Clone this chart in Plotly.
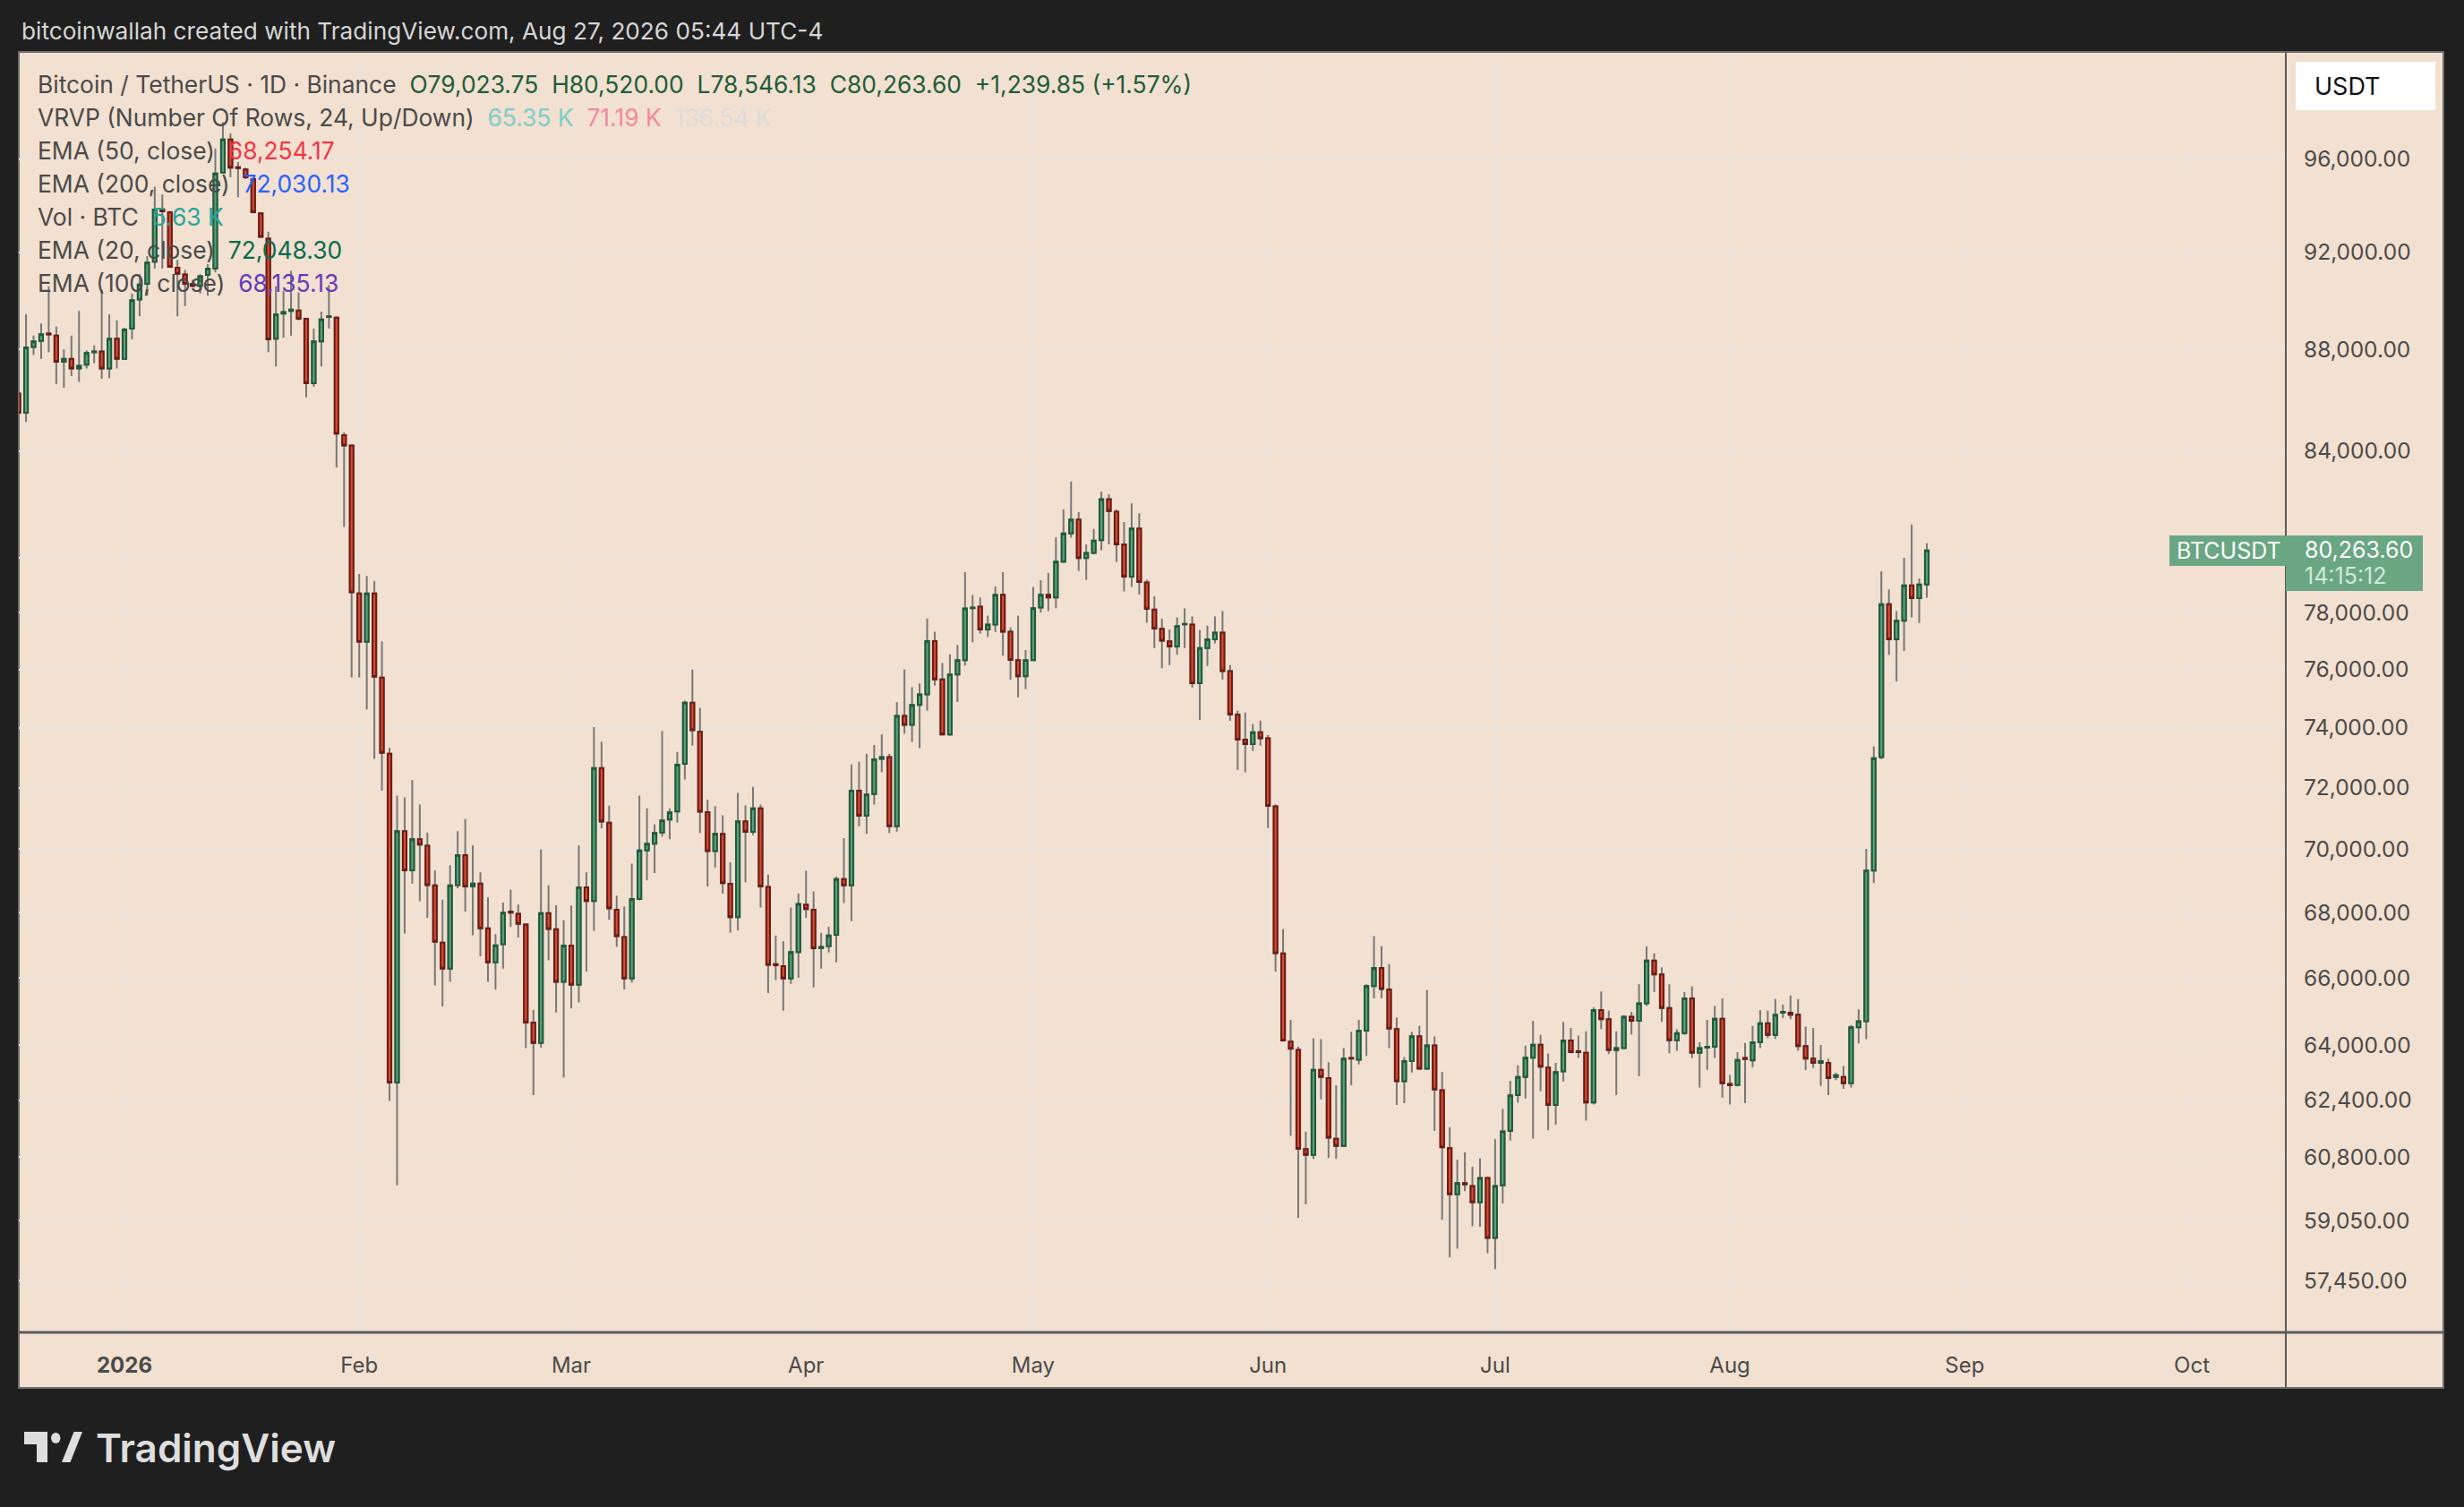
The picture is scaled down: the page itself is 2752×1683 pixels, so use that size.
import math
import pandas as pd
import plotly.graph_objects as go

# daily candles, BTC/USDT (Binance), 18 Dec 2025 .. 27 Aug 2026
dates = pd.date_range("2025-12-18", "2026-08-27", freq="D")

opens = [
    # Dec
    86240, 85480, 88100, 88340, 88640, 88560, 87500, 87620, 87235, 87390, 87880, 87920, 87235, 88430,
    # Jan
    87620, 88840, 90030, 90680, 91600, 93820, 93700, 91350, 91070, 90680, 90600, 91050, 91310, 95420, 96880, 95650,
    95550, 95130, 93650, 92580, 88430, 89450, 89560, 89580, 89240, 86650, 88320, 89310, 89290, 84610, 84210,
    # Feb
    78700, 76970, 78700, 75720, 73130, 62910, 70580, 69330, 70320, 70110, 68850, 67070, 66280, 68860,
    69810, 68820, 68910, 67510, 66470, 67020, 68030, 67960, 67630, 64660, 64060, 67980, 67480, 65880,
    # Mar
    66980, 65790, 68790, 68360, 72650, 70860, 68090, 67240, 65980, 68420, 69960, 70180, 70540, 70960, 71220, 72790,
    74860, 73870, 71200, 69940, 70495, 68900, 67860, 70900, 70560, 71320, 68800, 66410, 66350, 65980, 66780,
    # Apr
    68250, 68090, 66900, 66960, 67310, 69050, 68850, 71900, 71080, 71790, 72960, 73020, 70740, 74410, 74100,
    74780, 75140, 77000, 75660, 73780, 75830, 76330, 78170, 78220, 77410, 77580, 78650, 77330, 76330, 75770,
    # May
    76330, 78190, 78650, 78550, 79850, 80890, 81400, 79980, 80170, 80640, 82170, 81700, 80480, 79300, 81070, 79090,
    78120, 77430, 76990, 76810, 77590, 77580, 75530, 76750, 77060, 77300, 75950, 74450, 73600, 73450, 73850,
    # Jun
    73650, 71390, 66740, 64100, 63860, 61020, 60860, 63280, 63040, 61310, 61110, 63620, 63570, 64420, 65750,
    66300, 65650, 64470, 62950, 63530, 64260, 63310, 63990, 62690, 61050, 59770, 60080, 60000, 59550, 60220,
    # Jul
    58590, 60020, 61530, 62550, 63070, 63630, 64010, 63340, 62270, 63230, 64130, 63820, 63770, 62340, 65030, 64760,
    63850, 63910, 64830, 64710, 65230, 66520, 66100, 65090, 64140, 64350, 65380, 63770, 63920, 63950, 64770,
    # Aug
    62870, 62840, 63620, 63550, 64080, 64640, 64300, 64950, 64950, 64890, 63970, 63600, 63480, 63480,
    63070, 63070, 62890, 64520, 64700, 69320, 73020, 78310, 77060, 77720, 78990, 78530, 79023.75,
]

highs = [
    # Dec
    86600, 89420, 88560, 89050, 90580, 88920, 88000, 88560, 89560, 87960, 88160, 90420, 89420, 89180,
    # Jan
    88880, 90270, 91080, 91840, 94800, 94460, 93750, 91680, 91260, 90840, 91080, 91500, 96470, 97640, 97140, 95880,
    95630, 95170, 93700, 92870, 90580, 90390, 91220, 90320, 89290, 88840, 89530, 90630, 89340, 84720, 84250,
    # Feb
    79400, 79330, 79150, 76990, 73330, 71740, 71680, 72250, 71450, 70540, 69330, 68400, 69490, 70580,
    70970, 70130, 69260, 68480, 67330, 68310, 68720, 68250, 67670, 65040, 69990, 68850, 68230, 67760,
    # Mar
    68220, 70120, 69260, 74030, 73530, 71410, 68530, 68190, 69540, 71740, 71320, 70800, 73890, 71320, 73190, 74930,
    76000, 74680, 71610, 71390, 71100, 69580, 71830, 71420, 72030, 71450, 69190, 67290, 67120, 68160, 68590,
    # Apr
    69310, 68660, 67370, 67560, 69130, 70360, 72770, 72860, 73120, 73420, 73780, 73120, 74870, 76000, 75390,
    75520, 77800, 77330, 76230, 76530, 76860, 79470, 78640, 78550, 77900, 78950, 79470, 77480, 77900, 76680,
    # May
    78920, 79170, 79440, 80750, 81790, 82830, 81680, 80480, 81050, 82450, 82350, 81780, 81310, 82010, 81640, 79200,
    78590, 77790, 77410, 77840, 78160, 77870, 77390, 77540, 77870, 78060, 76160, 74580, 74520, 74130, 74250,
    # Jun
    73750, 71450, 67490, 64740, 63950, 61510, 64200, 64170, 63500, 62830, 63910, 64390, 64740, 65800, 67270,
    66970, 66420, 64810, 63650, 64390, 64570, 65630, 64250, 63220, 61630, 60730, 60930, 60530, 60760, 60250,
    # Jul
    61300, 62160, 62960, 63410, 63980, 64710, 64300, 63750, 63480, 64680, 64500, 64280, 64400, 65110, 65590, 65010,
    64400, 64880, 64980, 65800, 66950, 66740, 66320, 65800, 64460, 65570, 65740, 64080, 64740, 65150, 65380,
    # Aug
    63130, 63790, 64060, 64560, 65030, 65010, 65360, 65190, 65470, 65360, 64540, 64500, 64000, 63600,
    63190, 63390, 64590, 65050, 70010, 73380, 79500, 78840, 78060, 79990, 81220, 79240, 80520.00,
]

lows = [
    # Dec
    85300, 85120, 87770, 87620, 87880, 86620, 86470, 86930, 86700, 87235, 87450, 86820, 86850, 87235,
    # Jan
    87570, 88400, 89340, 90190, 91310, 91310, 91350, 89340, 89760, 90520, 90270, 90190, 91150, 95380, 95210, 94350,
    95130, 93650, 92620, 87890, 87310, 88480, 88560, 89180, 86090, 86500, 87310, 88840, 83370, 81130, 75730,
    # Feb
    75730, 74630, 72960, 71900, 62380, 60020, 67350, 68910, 68350, 67840, 65770, 65140, 65880, 68760,
    68030, 67300, 66650, 65880, 65640, 66280, 67550, 67230, 63910, 62550, 63920, 66530, 64960, 63060,
    # Mar
    65080, 65260, 66190, 67430, 70670, 67780, 66940, 65650, 65860, 68380, 69010, 69240, 70410, 70320, 70860, 72270,
    73400, 70520, 68820, 69420, 68590, 67380, 67450, 68950, 70450, 68160, 65540, 65930, 65010, 65820, 66000,
    # Apr
    67830, 65710, 66280, 66770, 66470, 68300, 67730, 70740, 70500, 71450, 72510, 70520, 70570, 73800, 73530,
    73320, 74580, 75440, 73750, 73730, 74880, 76140, 76960, 77270, 77150, 77320, 76490, 75650, 75040, 75330,
    # May
    76300, 78010, 78060, 78170, 79800, 80730, 79510, 79190, 80120, 80260, 80480, 79840, 78770, 78930, 78660, 77650,
    76750, 76050, 76160, 76520, 76750, 75380, 74270, 76130, 76920, 75650, 74240, 72590, 72510, 73230, 73400,
    # Jun
    70680, 66190, 64100, 61390, 59130, 59500, 60750, 62430, 60770, 60750, 61080, 62830, 63430, 63680, 65380,
    65380, 63910, 62270, 62320, 63200, 63280, 63280, 61530, 59080, 58070, 58300, 59860, 58900, 58890, 58180,
    # Jul
    57760, 59520, 61260, 62330, 62450, 61310, 62660, 61550, 61710, 62940, 63760, 63630, 61820, 62280, 64470, 63730,
    62550, 63880, 64310, 63090, 65150, 65570, 64680, 63760, 63830, 64300, 63620, 62770, 63280, 63620, 62480,
    # Aug
    62280, 62800, 62320, 63350, 63910, 64200, 64180, 64790, 64760, 63830, 63270, 63330, 62810, 62550,
    62980, 62730, 62770, 64050, 64170, 68920, 72950, 76510, 75590, 76650, 77840, 77640, 78546.13,
]

closes = [
    # Dec
    85480, 88080, 88320, 88610, 88600, 87500, 87620, 87235, 87340, 87850, 87920, 87235, 88430, 87620,
    # Jan
    88800, 90000, 90650, 91570, 93820, 93740, 91390, 91100, 90680, 90600, 91000, 91310, 95380, 96880, 95630, 95610,
    95210, 93700, 92650, 88400, 89420, 89520, 89620, 89240, 86650, 88320, 89210, 89340, 84670, 84210, 78740,
    # Feb
    76970, 78700, 75750, 73160, 62910, 70580, 69330, 70320, 70150, 68860, 67100, 66280, 68850, 69810,
    68820, 68910, 67510, 66470, 66990, 68000, 68000, 67650, 64660, 64060, 67980, 67490, 65880, 66980,
    # Mar
    65790, 68790, 68360, 72650, 70890, 68130, 67270, 65980, 68420, 69960, 70180, 70520, 70930, 71190, 72760, 74860,
    73920, 71210, 69940, 70500, 68920, 67860, 70900, 70560, 71320, 68820, 66390, 66380, 65980, 66780, 68270,
    # Apr
    68110, 66900, 66940, 67290, 69050, 68850, 71900, 71080, 71780, 72940, 73020, 70740, 74410, 74100, 74780,
    75140, 77000, 75660, 73780, 75830, 76330, 78160, 78190, 77410, 77580, 78650, 77330, 76340, 75770, 76330,
    # May
    78170, 78650, 78550, 79850, 80890, 81400, 79980, 80170, 80620, 82170, 81720, 80480, 79300, 81070, 79110, 78140,
    77440, 77010, 76810, 77530, 77610, 75530, 76750, 77060, 77300, 75950, 74450, 73600, 73450, 73850, 73650,
    # Jun
    71400, 66750, 64130, 63890, 61030, 60860, 63280, 63070, 61340, 61110, 63600, 63600, 64420, 65750, 66300,
    65660, 64480, 62950, 63530, 64260, 63310, 63990, 62710, 61070, 59770, 60080, 60040, 59550, 60220, 58590,
    # Jul
    60000, 61520, 62540, 63070, 63630, 64010, 63370, 62270, 63210, 64130, 63790, 63790, 62340, 65030, 64760, 63850,
    63910, 64830, 64710, 65230, 66520, 66100, 65090, 64140, 64350, 65380, 63770, 63910, 63950, 64770, 62890,
    # Aug
    62830, 63560, 63590, 64080, 64640, 64300, 64890, 64980, 64890, 63970, 63600, 63480, 63530, 63040,
    63120, 62890, 64520, 64700, 69320, 72980, 78310, 77060, 77720, 78990, 78530, 79023.75, 80263.60,
]

assert len(opens) == len(highs) == len(lows) == len(closes) == len(dates), (
    len(opens), len(highs), len(lows), len(closes), len(dates))

last_price = closes[-1]

price_ticks = [96000, 92000, 88000, 84000, 80000, 78000, 76000, 74000, 72000,
               70000, 68000, 66000, 64000, 62400, 60800, 59050, 57450]
# 80,000 label is covered by the last-price tag in the original
price_labels = ["" if v == 80000 else f"{v:,.2f}" for v in price_ticks]

month_ticks = pd.date_range("2026-01-01", "2026-10-01", freq="MS")
month_labels = ["<b>2026</b>", "Feb", "Mar", "Apr", "May", "Jun", "Jul", "Aug", "Sep", "Oct"]

# colours
DARK = "#1f1f1f"
PANEL = "#f2e0d0"
GRID = "#e9e3dc"
WICK = "#787878"
UP_FILL, UP_LINE = "#5e9f7b", "#1d5b3b"
DN_FILL, DN_LINE = "#d94a32", "#6b1c15"
TAG = "#6aa683"
TXT = "#4a4a4a"
FONT = "Inter"

# pixel frame of the plot area
W, H = 2752, 1683
L, R, T, B = 21, 2553, 59, 1488


def px(x):
    return (x - L) / (R - L)


def py(y):
    return (B - y) / (B - T)


fig = go.Figure()

# wicks (grey), bodies drawn on top
fig.add_trace(go.Candlestick(
    x=dates, open=opens, high=highs, low=lows, close=closes,
    increasing=dict(line=dict(color=WICK, width=2), fillcolor=WICK),
    decreasing=dict(line=dict(color=WICK, width=2), fillcolor=WICK),
    whiskerwidth=0, hoverinfo="skip", showlegend=False,
))
body_hi = [max(o, c) for o, c in zip(opens, closes)]
body_lo = [min(o, c) for o, c in zip(opens, closes)]
fig.add_trace(go.Candlestick(
    x=dates, open=opens, high=body_hi, low=body_lo, close=closes,
    increasing=dict(line=dict(color=UP_LINE, width=2), fillcolor=UP_FILL),
    decreasing=dict(line=dict(color=DN_LINE, width=2), fillcolor=DN_FILL),
    whiskerwidth=0, showlegend=False,
))

shapes = [
    # chart panel
    dict(type="rect", xref="paper", yref="paper", x0=px(21), x1=px(2729), y0=py(1550), y1=py(58),
         fillcolor=PANEL, line=dict(color="#6e6e6e", width=2), layer="below"),
    # price scale / time scale separators
    dict(type="line", xref="paper", yref="paper", x0=1, x1=1, y0=py(1550), y1=py(58),
         line=dict(color="#5a5a5a", width=2)),
    dict(type="line", xref="paper", yref="paper", x0=px(21), x1=px(2729), y0=0, y1=0,
         line=dict(color="#5a5a5a", width=3)),
    # last price line
    dict(type="line", xref="paper", yref="y", x0=0, x1=1,
         y0=math.log10(last_price), y1=math.log10(last_price),
         line=dict(color=TAG, width=2, dash="dot")),
    # last price tags
    dict(type="rect", xref="paper", yref="paper", x0=px(2423), x1=1, y0=py(632), y1=py(598),
         fillcolor=TAG, line=dict(width=0)),
    dict(type="rect", xref="paper", yref="paper", x0=1, x1=px(2706), y0=py(660), y1=py(598),
         fillcolor=TAG, line=dict(width=0)),
    # currency box
    dict(type="rect", xref="paper", yref="paper", x0=px(2564), x1=px(2720), y0=py(123), y1=py(69),
         fillcolor="#ffffff", line=dict(width=0)),
    # TradingView mark
    dict(type="rect", xref="paper", yref="paper", x0=px(27), x1=px(53), y0=py(1613), y1=py(1599),
         fillcolor="#dedede", line=dict(width=0)),
    dict(type="rect", xref="paper", yref="paper", x0=px(41), x1=px(53), y0=py(1633), y1=py(1599),
         fillcolor="#dedede", line=dict(width=0)),
    dict(type="circle", xref="paper", yref="paper", x0=px(57), x1=px(67.5), y0=py(1612), y1=py(1600),
         fillcolor="#dedede", line=dict(width=0)),
    dict(type="path", xref="paper", yref="paper",
         path=f"M {px(69)} {py(1633)} L {px(82.5)} {py(1599)} L {px(92)} {py(1599)} "
              f"L {px(78.5)} {py(1633)} Z",
         fillcolor="#dedede", line=dict(width=0)),
]


def note(x, y, text, size=26.4, color=TXT, anchor="left", weight=None):
    font = dict(family=FONT, size=size, color=color)
    if weight:
        font["weight"] = weight
    return dict(xref="paper", yref="paper", x=px(x), y=py(y), text=text, showarrow=False,
                xanchor=anchor, yanchor="middle", font=font)


def span(text, color):
    return f"<span style='color:{color}'>{text}</span>"


GREEN_TXT = "#1f5c3a"
sp = "&nbsp;&nbsp;"
legend_lines = [
    "Bitcoin / TetherUS · 1D · Binance" + sp + span(
        "O79,023.75" + sp + "H80,520.00" + sp + "L78,546.13" + sp + "C80,263.60" + sp
        + "+1,239.85 (+1.57%)", GREEN_TXT),
    "VRVP (Number Of Rows, 24, Up/Down)" + sp + span("65.35 K", "#7fcdc8") + sp
    + span("71.19 K", "#f08ba0") + sp + span("136.54 K", "#dcdcdc"),
    "EMA (50, close)" + sp + span("68,254.17", "#f23645"),
    "EMA (200, close)" + sp + span("72,030.13", "#2962ff"),
    "Vol · BTC" + sp + span("5.63 K", "#26a69a"),
    "EMA (20, close)" + sp + span("72,048.30", "#0a6b4f"),
    "EMA (100, close)" + sp + span("68,135.13", "#673ab7"),
]
legend_y = [94, 131, 168, 205, 242, 279, 316]

annotations = [note(22, 35, "bitcoinwallah created with TradingView.com, Aug 27, 2026 05:44 UTC-4",
                    size=26.2, color="#d6d6d6")]
annotations += [note(40, y, t) for y, t in zip(legend_y, legend_lines)]
annotations += [
    note(2583, 96, "USDT", size=27, color="#131313"),
    note(2489, 615, "BTCUSDT", size=25, color="#ffffff", anchor="center"),
    note(2572, 614, "80,263.60", size=25, color="#ffffff"),
    note(2572, 643, "14:15:12", size=25, color="#d4e8da"),
    note(105, 1617, "TradingView", size=44, color="#dedede", weight=600),
]

fig.update_layout(
    width=W, height=H,
    margin=dict(l=L, r=W - R, t=T, b=H - B, pad=0),
    paper_bgcolor=DARK, plot_bgcolor=PANEL,
    font=dict(family=FONT, size=24, color=TXT),
    showlegend=False,
    shapes=shapes,
    annotations=annotations,
    xaxis=dict(
        type="date",
        range=["2025-12-18 01:10", "2026-10-13 09:50"],
        rangeslider=dict(visible=False),
        tickmode="array", tickvals=month_ticks, ticktext=month_labels,
        showgrid=True, gridcolor=GRID, gridwidth=2,
        zeroline=False, showline=False, ticks="",
        tickfont=dict(family=FONT, size=24, color=TXT),
        ticklabelstandoff=20,
        fixedrange=True,
    ),
    yaxis=dict(
        type="log", side="right",
        range=[math.log10(56110), math.log10(100795)],
        tickmode="array", tickvals=price_ticks, ticktext=price_labels,
        showgrid=True, gridcolor=GRID, gridwidth=2,
        zeroline=False, showline=False, ticks="",
        tickfont=dict(family=FONT, size=24.5, color=TXT),
        ticklabelstandoff=19,
        fixedrange=True,
    ),
)

fig.write_html(
    "out.html",
    config={"displayModeBar": False},
    post_script="document.body.style.margin='0';document.body.style.background='#1f1f1f';",
)
